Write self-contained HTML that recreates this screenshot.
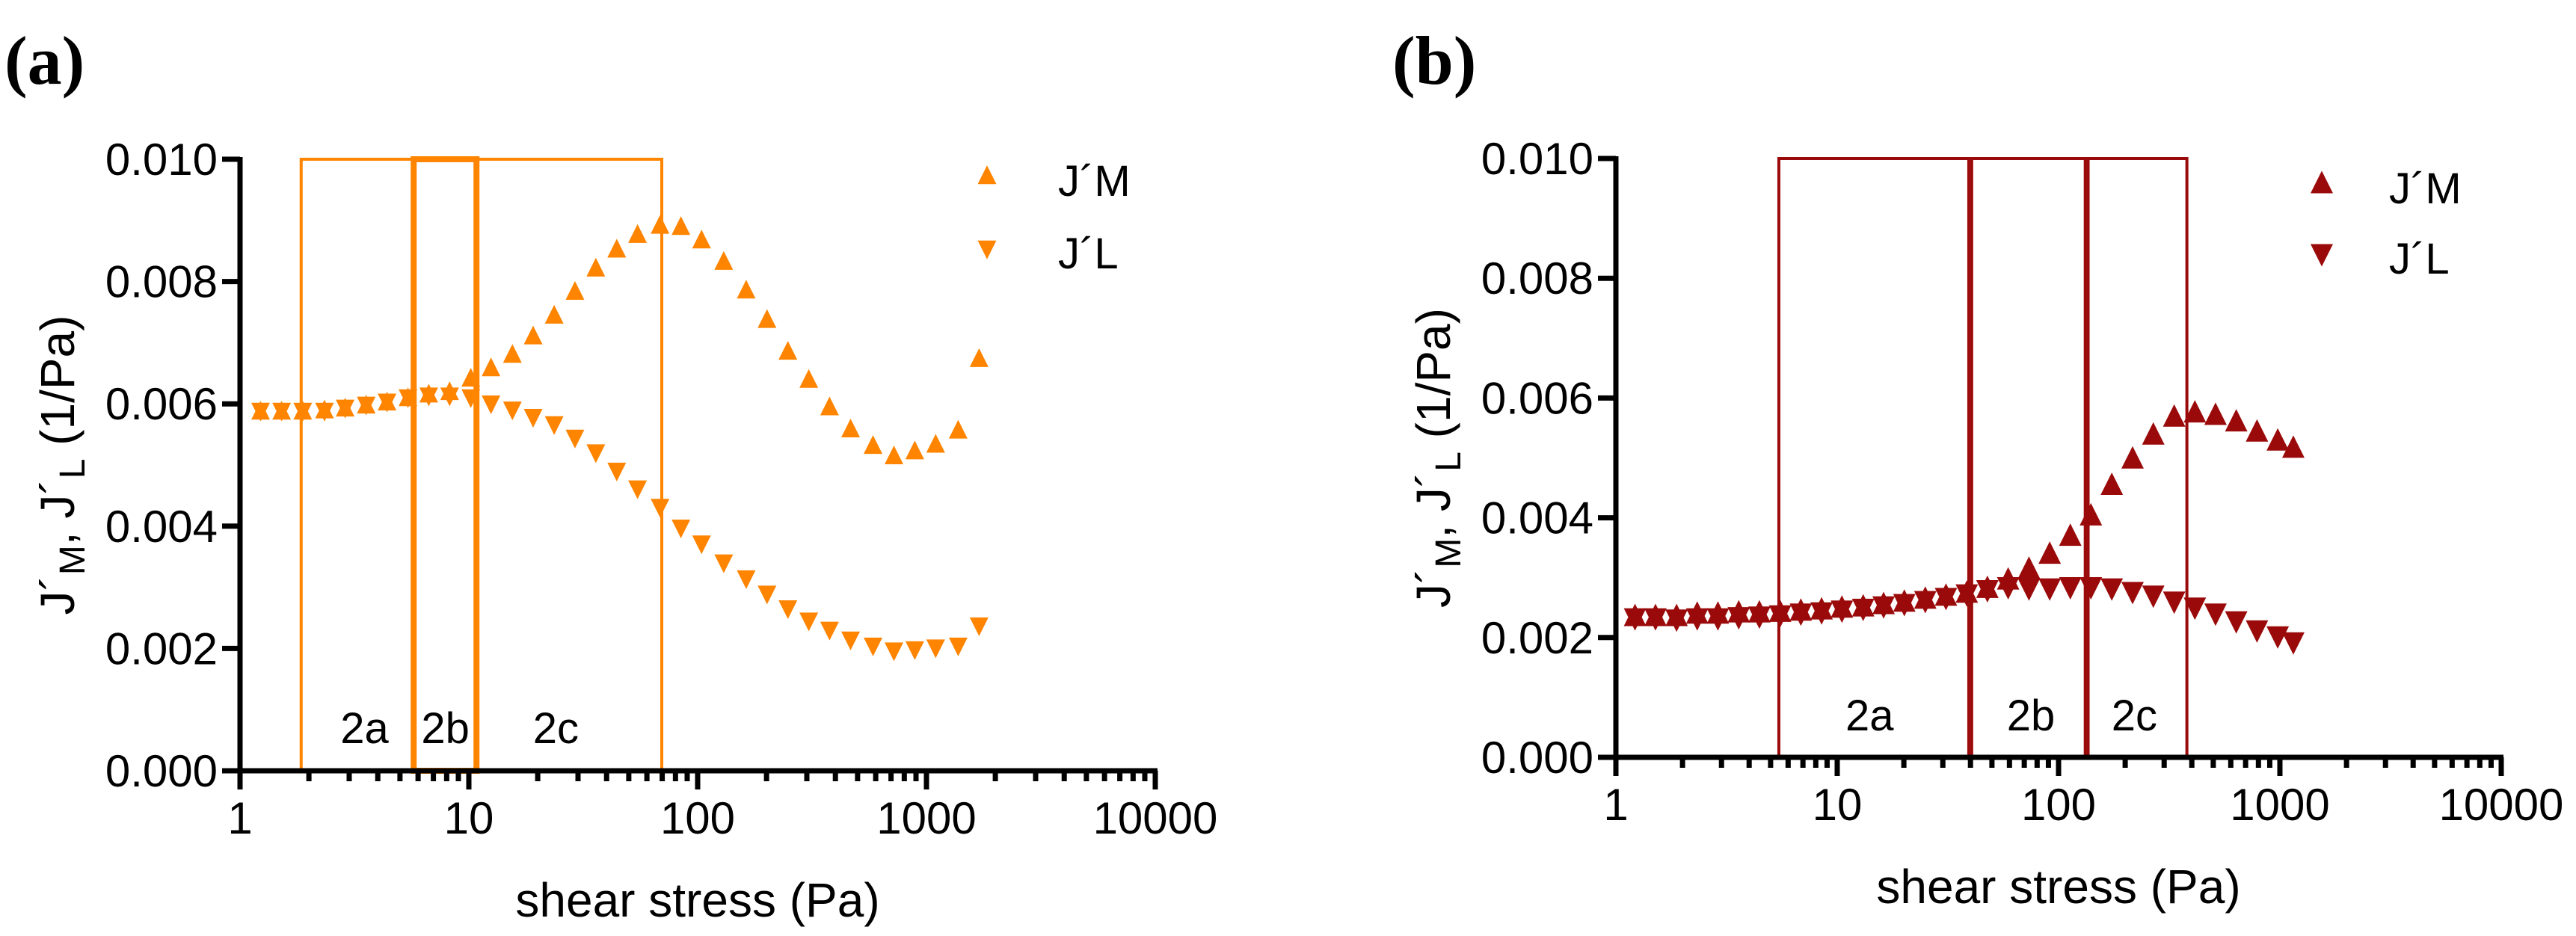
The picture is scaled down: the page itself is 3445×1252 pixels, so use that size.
<!DOCTYPE html>
<html><head><meta charset="utf-8"><style>
html,body{margin:0;padding:0;background:#fff;}
svg{display:block;font-family:"Liberation Sans",Arial,sans-serif;}
</style></head><body>
<svg id="fig" width="3445" height="1252" viewBox="0 0 3445 1252" xmlns="http://www.w3.org/2000/svg"></svg>
<script>
// ---- Panel (a) data ----
const aX = [1.23,1.52,1.88,2.34,2.88,3.56,4.39,5.42,6.68,8.24,10.2,12.5,15.5,19.1,23.6,29.1,35.9,44.3,54.6,68.5,84.5,104,130,163,201,248,306,377,466,584,721,889,1097,1376,1698];
const aJM = [0.00588,0.00588,0.00588,0.0059,0.00593,0.00598,0.00603,0.0061,0.00616,0.0062,0.00642,0.00659,0.00681,0.00711,0.00745,0.00784,0.00822,0.00853,0.00877,0.00892,0.0089,0.00868,0.00833,0.00786,0.00738,0.00686,0.0064,0.00595,0.00559,0.00532,0.00515,0.00523,0.00534,0.00557,0.00674];
const aJL = [0.00588,0.00588,0.00588,0.00588,0.00593,0.00598,0.00603,0.0061,0.00613,0.00613,0.0061,0.006,0.0059,0.00578,0.00566,0.00544,0.0052,0.0049,0.00461,0.00431,0.00397,0.00371,0.0034,0.00314,0.00289,0.00265,0.00245,0.0023,0.00214,0.00204,0.00196,0.00198,0.00201,0.00204,0.00237];
const aRegions = [[1.85,5.74],[5.74,10.8],[10.8,69.7]];
const aRegionLabels = ["2a","2b","2c"];
const aLabelX = [3.5,7.9,24];
// ---- Panel (b) data ----
const bX = [1.22,1.51,1.88,2.33,2.89,3.59,4.45,5.52,6.85,8.5,10.5,13.1,16.2,20.1,25.0,31.0,38.5,47.7,59.2,73.5,91.2,113,140,174,216,268,333,413,512,635,788,978,1150];
const bJM = [0.00236,0.00236,0.00236,0.0024,0.0024,0.00242,0.00242,0.00243,0.00245,0.00247,0.0025,0.00252,0.00256,0.0026,0.00265,0.0027,0.00275,0.00283,0.00297,0.00315,0.0034,0.0037,0.00404,0.00455,0.00499,0.00539,0.00569,0.00576,0.00572,0.00561,0.00544,0.00529,0.00517];
const bJL = [0.00232,0.00232,0.0023,0.00232,0.00232,0.00234,0.00235,0.00237,0.0024,0.00242,0.00245,0.00248,0.00252,0.00256,0.00261,0.00266,0.00272,0.00279,0.00284,0.00282,0.00282,0.00284,0.00284,0.00282,0.00276,0.0027,0.0026,0.0025,0.0024,0.00227,0.00212,0.00202,0.00192];
const bRegions = [[5.45,39.3],[40.5,132],[136,380]];
const bRegionLabels = ["2a","2b","2c"];
const bLabelX = [14,75,220];
const yTicks = [0,0.002,0.004,0.006,0.008,0.010];
const yTickLabels = ["0.000","0.002","0.004","0.006","0.008","0.010"];
const xTickVals = [1,10,100,1000,10000];
const xTickLabels = ["1","10","100","1000","10000"];

const NS="http://www.w3.org/2000/svg";
const svg=document.getElementById('fig');
function mk(tag,attrs,parent){const e=document.createElementNS(NS,tag);for(const k in attrs)e.setAttribute(k,attrs[k]);(parent||svg).appendChild(e);return e;}

function panel(cfg){
  const g=mk('g',{});
  
  
  const sx=v=>cfg.x0+Math.log10(v)*cfg.dec;
  const sy=v=>cfg.yb-(v/0.010)*(cfg.yb-cfg.yt);
  // title
  const t=mk('text',{x:cfg.titleX,y:112,'font-family':'"Liberation Serif",serif','font-weight':'bold','font-size':92,fill:'#000'},g);
  t.textContent=cfg.title;
  
  
  // regions
  cfg.regions.forEach((r,i)=>{
    const rc=mk('rect',{x:sx(r[0]),y:sy(0.010),width:sx(r[1])-sx(r[0]),height:sy(0)-sy(0.010),fill:'none',stroke:cfg.color,'stroke-width':cfg.rw[i]},g);
    
    
    const lt=mk('text',{x:sx(cfg.labelX[i]),y:sy(0.00045),'font-size':58,'text-anchor':'middle',fill:'#000'},g);
    lt.textContent=cfg.labels[i];
    
    
  });
  // axes
  const ax=mk('path',{d:`M${cfg.x0} ${sy(0.010)-3} V${cfg.yb} H${sx(10000)+3}`,fill:'none',stroke:'#000','stroke-width':7},g);
  
  
  yTicks.forEach((v,i)=>{
    mk('line',{x1:cfg.x0-24,x2:cfg.x0,y1:sy(v),y2:sy(v),stroke:'#000','stroke-width':7},g);
    const tl=mk('text',{x:cfg.x0-30,y:sy(v)+21,'font-size':60,'text-anchor':'end',fill:'#000'},g);
    tl.textContent=yTickLabels[i];
    
    
  });
  for(let d=0;d<4;d++){for(let m=2;m<=9;m++){const v=Math.pow(10,d)*m;
    mk('line',{x1:sx(v),x2:sx(v),y1:cfg.yb,y2:cfg.yb+14,stroke:'#000','stroke-width':7},g);}}
  xTickVals.forEach((v,i)=>{
    mk('line',{x1:sx(v),x2:sx(v),y1:cfg.yb,y2:cfg.yb+25,stroke:'#000','stroke-width':7},g);
    const tl=mk('text',{x:sx(v),y:cfg.yb+84,'font-size':60,'text-anchor':'middle',fill:'#000'},g);
    tl.textContent=xTickLabels[i];
    
    
  });
  const xl=mk('text',{x:(cfg.x0+sx(10000))/2,y:cfg.yb+195,'font-size':64,'text-anchor':'middle',fill:'#000'},g);
  xl.textContent='shear stress (Pa)';
  
  
  const yl=mk('text',{transform:`translate(${cfg.x0-222},${(cfg.yt+cfg.yb)/2}) rotate(-90)`,'font-size':64,'text-anchor':'middle',fill:'#000'},g);
  yl.innerHTML='J´<tspan font-size="48" dy="14">M</tspan><tspan dy="-14">, J´</tspan><tspan font-size="48" dy="14">L</tspan><tspan dy="-14"> (1/Pa)</tspan>';
  
  
  // markers
  const s=cfg.ms;
  const up=(x,y)=>`M${x} ${y-s*0.55} L${x+s/2} ${y+s*0.45} L${x-s/2} ${y+s*0.45}Z`;
  const dn=(x,y)=>`M${x} ${y+s*0.55} L${x+s/2} ${y-s*0.45} L${x-s/2} ${y-s*0.45}Z`;
  cfg.xs.forEach((x,i)=>{
    const p=mk('path',{d:up(sx(x),sy(cfg.jm[i])),fill:cfg.color},g);
    
    
  });
  cfg.xs.forEach((x,i)=>{
    const p=mk('path',{d:dn(sx(x),sy(cfg.jl[i])),fill:cfg.color},g);
    
    
  });
  // legend
  const l1=mk('path',{d:up(cfg.legX,cfg.legY1),fill:cfg.color},g);
  
  
  const l2=mk('path',{d:dn(cfg.legX,cfg.legY2),fill:cfg.color},g);
  
  
  const t1=mk('text',{x:cfg.legTX,y:cfg.legY1+27,'font-size':58,fill:'#000'},g);
  t1.textContent='J´M';
  
  
  const t2=mk('text',{x:cfg.legTX,y:cfg.legY2+26,'font-size':58,fill:'#000'},g);
  t2.textContent='J´L';
  
  
}
panel({name:'panel-a',title:'(a)',titleX:6,x0:321,dec:306,yt:213,yb:1031,color:'#FF8400',
  regions:aRegions,labels:aRegionLabels,labelX:aLabelX,rw:[4,8,4],xs:aX,jm:aJM,jl:aJL,ms:25,
  legX:1320,legY1:235,legY2:333,legTX:1415});
panel({name:'panel-b',title:'(b)',titleX:1862,x0:2161,dec:296,yt:212,yb:1013,color:'#9B0A0A',
  regions:bRegions,labels:bRegionLabels,labelX:bLabelX,rw:[4,4,4],xs:bX,jm:bJM,jl:bJL,ms:30,
  legX:3105,legY1:245,legY2:340,legTX:3195});
</script>
</body></html>
